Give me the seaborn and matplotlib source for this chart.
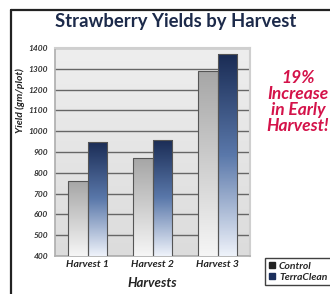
import numpy as np
import pandas as pd
import matplotlib
matplotlib.use("Agg")
import matplotlib.pyplot as plt
from matplotlib.lines import Line2D
from matplotlib.patches import Patch
from matplotlib.colors import LinearSegmentedColormap
import seaborn as sns

harvests = ["Harvest 1", "Harvest 2", "Harvest 3"]
control = [760, 870, 1290]
terraclean = [950, 960, 1370]
series = ["Control", "TerraClean"]
y_ticks = [400, 500, 600, 700, 800, 900, 1000, 1100, 1200, 1300, 1400]

df = pd.DataFrame({
    "Harvest": harvests * 2,
    "Series": ["Control"] * 3 + ["TerraClean"] * 3,
    "Yield": control + terraclean,
})

sns.set_theme(style="white")
plt.rcParams["font.family"] = ["Lato", "DejaVu Sans"]

W, H = 330, 294
fig = plt.figure(figsize=(W / 100, H / 100), dpi=100)
ax = fig.add_axes([55 / W, 1 - 256 / H, 195 / W, 208 / H])

navy = "#1b2f5c"
sns.barplot(data=df, x="Harvest", y="Yield", hue="Series",
            palette={"Control": "#aaaaaa", "TerraClean": navy},
            width=0.6, ax=ax, legend=False, zorder=3,
            edgecolor="#555555", linewidth=0.8)

ax.set_ylim(400, 1400)
ax.set_xlim(-0.5, 2.5)
ax.set_facecolor("#e4e4e4")
ax.set_yticks(y_ticks)
ax.set_yticklabels([str(v) for v in y_ticks], fontsize=6, fontweight="bold",
                   fontstyle="italic", color="#333333")
ax.tick_params(axis="y", length=3, width=0.6, color="#888888", pad=2)
ax.tick_params(axis="x", length=0, pad=3)
ax.set_xticks(range(len(harvests)))
ax.set_xticklabels(harvests, fontsize=7.5, fontweight="bold", fontstyle="italic",
                   color="#222222")
ax.yaxis.grid(True, color="#666666", linewidth=1.0, zorder=1)
ax.set_axisbelow(True)
for s in ["top", "right"]:
    ax.spines[s].set_color("#cfcfcf")
    ax.spines[s].set_linewidth(1.5)
ax.spines["left"].set_color("#b0b0b0")
ax.spines["bottom"].set_color("#b0b0b0")
ax.set_xlabel("")
ax.set_ylabel("")

# background gradient
bg = LinearSegmentedColormap.from_list("bg", ["#eeeeee", "#dcdcdc"])
ax.imshow(np.linspace(0, 1, 100).reshape(-1, 1), cmap=bg, aspect="auto",
          extent=(-0.5, 2.5, 400, 1400), zorder=0)

cmaps = {
    "Control": LinearSegmentedColormap.from_list("c", ["#f6f6f6", "#a6a6a6"]),
    "TerraClean": LinearSegmentedColormap.from_list("t", ["#eef2fa", "#5a78aa", "#1a2c55"]),
}
grad = np.linspace(0, 1, 200).reshape(-1, 1)
patches = [p for p in ax.patches if p.get_height() > 0]
for i, p in enumerate(patches):
    s = series[i // len(harvests)]
    x0, w = p.get_x(), p.get_width()
    y0, h = p.get_y(), p.get_height()
    im = ax.imshow(grad, cmap=cmaps[s], aspect="auto", origin="lower",
                   extent=(x0, x0 + w, 400, y0 + h), zorder=3.5)
    im.set_clip_path(p)
    p.set_facecolor("none")
    p.set_zorder(4)
ax.set_xlim(-0.5, 2.5)
ax.set_ylim(400, 1400)

fig.text(176 / W, 1 - 22 / H, "Strawberry Yields by Harvest", ha="center", va="center",
         fontsize=13.3, fontweight="bold", color="#1c2a4a")
fig.text(20 / W, 1 - 101 / H, "Yield (gm/plot)", rotation=90, ha="center", va="center",
         fontsize=7.5, fontweight="bold", fontstyle="italic", color="#222222")
fig.text(152 / W, 1 - 283 / H, "Harvests", ha="center", va="center",
         fontsize=9.5, fontweight="bold", fontstyle="italic", color="#222222")
fig.text(298 / W, 1 - 102 / H, "19%\nIncrease\nin Early\nHarvest!", ha="center",
         va="center", fontsize=12.5, fontweight="bold", fontstyle="italic",
         color="#d4134a", linespacing=1.0)

handles = [Patch(facecolor="#222222", edgecolor="#222222"),
           Patch(facecolor=navy, edgecolor=navy)]
leg = fig.legend(handles, series, loc="upper left",
                 bbox_to_anchor=(265 / W, 1 - 258 / H), frameon=True,
                 prop={"size": 7.5, "weight": "bold", "style": "italic"},
                 handlelength=0.6, handleheight=0.6, handletextpad=0.4,
                 borderpad=0.35, labelspacing=0.2, fancybox=False,
                 borderaxespad=0)
leg.get_frame().set_edgecolor("#111111")
leg.get_frame().set_linewidth(1.0)

fig.add_artist(Line2D([11 / W, 1], [1 - 10 / H, 1 - 10 / H], color="#222222",
                      linewidth=1.6, transform=fig.transFigure))
fig.add_artist(Line2D([11 / W, 11 / W], [1 - 10 / H, 0], color="#222222",
                      linewidth=1.6, transform=fig.transFigure))

fig.savefig("out.png", dpi=100)
